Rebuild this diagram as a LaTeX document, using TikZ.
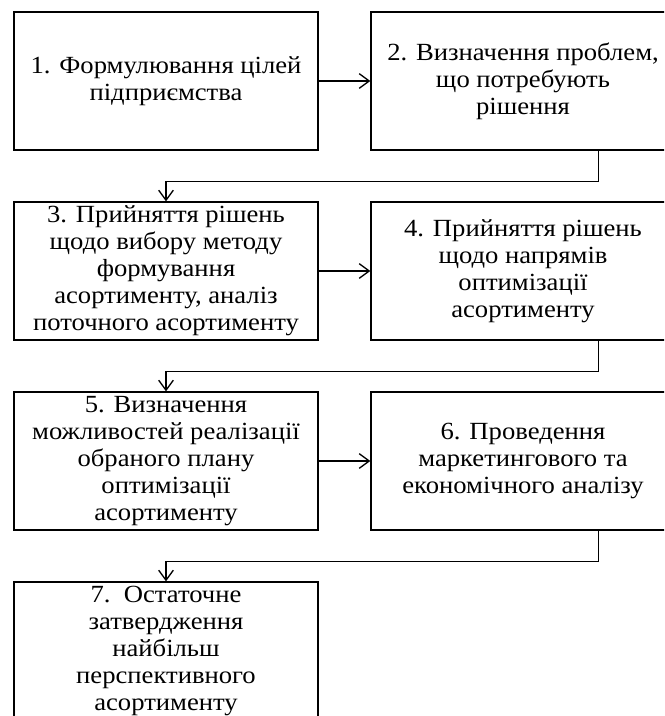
\documentclass[tikz,border=0pt]{standalone}
\usepackage{fontspec}
\setmainfont[FakeStretch=1.08]{Liberation Serif}
\usetikzlibrary{arrows.meta}

\begin{document}
\begin{tikzpicture}[x=0.75pt, y=-0.75pt,
    blok/.style={draw, line width=1pt, minimum width=228pt, minimum height=103.5pt,
        inner sep=0pt, align=center, font=\fontsize{18.5}{20.3}\selectfont},
    strilka/.style={-{Straight Barb[length=7.5pt,width=11pt]}, line width=1pt}]

    % Межі рисунка
    \useasboundingbox (0,0) rectangle (664,716);
    \clip (0,0) rectangle (664,716);

    % Блоки лівої колонки
    \node[blok] (b1) at (166,81) {1. Формулювання цілей\\ підприємства};
    \node[blok] (b3) at (166,271) {3. Прийняття рішень\\ щодо вибору методу\\ формування\\ асортименту, аналіз\\ поточного асортименту};
    \node[blok] (b5) at (166,461) {5. Визначення\\ можливостей реалізації\\ обраного плану\\ оптимізації\\ асортименту};
    \node[blok] (b7) at (166,651) {7.\ \ Остаточне\\ затвердження\\ найбільш\\ перспективного\\ асортименту};

    % Блоки правої колонки
    \node[blok] (b2) at (523,81) {2. Визначення проблем,\\ що потребують\\ рішення};
    \node[blok] (b4) at (523,271) {4. Прийняття рішень\\ щодо напрямів\\ оптимізації\\ асортименту};
    \node[blok] (b6) at (523,461) {6. Проведення\\ маркетингового та\\ економічного аналізу};

    % Стрілки в рядках
    \draw[strilka] (b1) -- (b2);
    \draw[strilka] (b3) -- (b4);
    \draw[strilka] (b5) -- (b6);

    % Переходи на наступний рядок
    \draw[strilka] ([xshift=56.6pt]b2.south) -- ++(0,31) -| (b3.north);
    \draw[strilka] ([xshift=56.6pt]b4.south) -- ++(0,31) -| (b5.north);
    \draw[strilka] ([xshift=56.6pt]b6.south) -- ++(0,31) -| (b7.north);

\end{tikzpicture}
\end{document}
